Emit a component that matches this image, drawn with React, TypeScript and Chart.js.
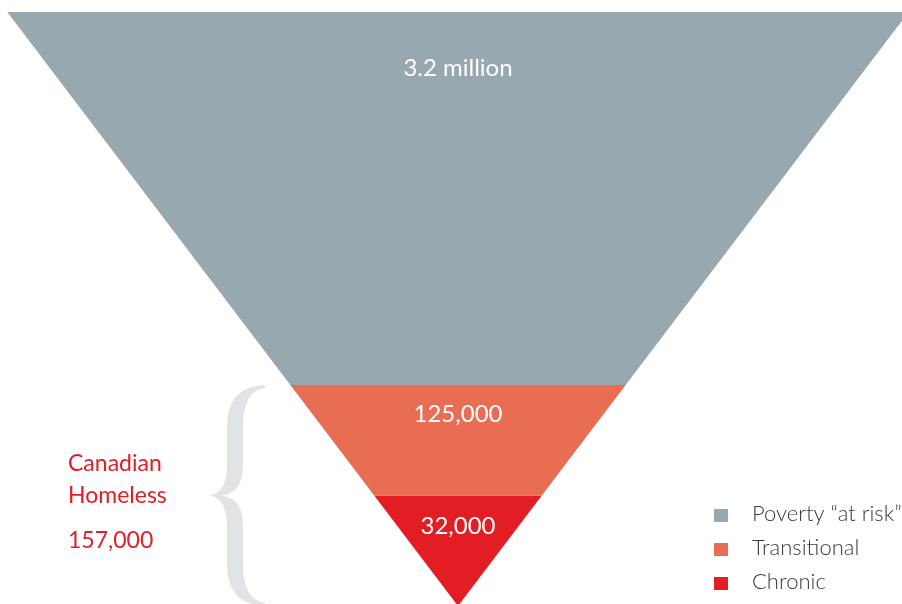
import React, { useEffect, useRef } from "react";
import { Chart, registerables } from "chart.js";

Chart.register(...registerables);

// ---- data ----
const categories = ["Poverty \u201cat risk\u201d", "Transitional", "Chronic"];
const valueLabels = ["3.2 million", "125,000", "32,000"];
const values = [3200000, 125000, 32000];
// share of the funnel height taken by each band (top to bottom)
const bandShares = [62.8, 18.6, 18.6];
const groupTitle = ["Canadian", "Homeless"];
const groupValue = "157,000";
const colors = ["#97a8ae", "#e96d52", "#e31d24"];

// ---- layout constants ----
const W = 902;
const H = 604;
const TOP_HALF = 450.7; // half width of funnel top in x units
const FONT = "Lato, 'Open Sans', sans-serif";

function levelBounds() {
  const out: [number, number][] = [];
  let top = 100;
  for (const s of bandShares) {
    out.push([top, top - s]);
    top -= s;
  }
  return out;
}

const hw = (l: number) => (l / 100) * TOP_HALF;

const funnelPlugin = {
  id: "funnelDecor",
  afterDatasetsDraw(chart: any) {
    const { ctx, scales } = chart;
    const xs = scales.x;
    const ys = scales.y;
    const cx = xs.getPixelForValue(0);
    const bounds = levelBounds();
    ctx.save();
    ctx.fillStyle = "#ffffff";
    ctx.textAlign = "center";
    ctx.textBaseline = "alphabetic";
    ctx.font = `400 24px ${FONT}`;
    const labelOffsets = [64, 37, 38];
    valueLabels.forEach((t, i) => {
      const yTop = ys.getPixelForValue(bounds[i][0]);
      ctx.fillText(t, cx, yTop + labelOffsets[i]);
    });

    // brace spanning transitional + chronic
    const bTop = ys.getPixelForValue(bounds[1][0]);
    const bBot = ys.getPixelForValue(bounds[2][1]);
    const mid = (bTop + bBot) / 2;
    const tipX = 265;
    const l = 227;
    const r = 243;
    const pt = 210;
    ctx.fillStyle = "#e1e4e7";
    ctx.beginPath();
    ctx.moveTo(tipX, bTop);
    ctx.quadraticCurveTo(l, bTop + 1, l, bTop + 42);
    ctx.lineTo(l, mid - 30);
    ctx.quadraticCurveTo(l, mid - 4, pt, mid);
    ctx.quadraticCurveTo(l, mid + 4, l, mid + 30);
    ctx.lineTo(l, bBot - 42);
    ctx.quadraticCurveTo(l, bBot - 1, tipX, bBot);
    ctx.lineTo(tipX, bBot - 3);
    ctx.quadraticCurveTo(r, bBot - 6, r, bBot - 42);
    ctx.lineTo(r, mid + 30);
    ctx.quadraticCurveTo(r, mid + 3, pt + 12, mid);
    ctx.quadraticCurveTo(r, mid - 3, r, mid - 30);
    ctx.lineTo(r, bTop + 42);
    ctx.quadraticCurveTo(r, bTop + 6, tipX, bTop + 3);
    ctx.closePath();
    ctx.fill();

    // group label
    ctx.fillStyle = "#e31d24";
    ctx.textAlign = "left";
    ctx.font = `400 23px ${FONT}`;
    ctx.fillText(groupTitle[0], 68, 471);
    ctx.fillText(groupTitle[1], 68, 503);
    ctx.fillText(groupValue, 68, 548);

    // legend
    const legY = [521, 555, 589];
    categories.forEach((c, i) => {
      ctx.fillStyle = colors[i];
      ctx.fillRect(714, legY[i] - 12, 14, 13);
      ctx.fillStyle = "#3a3a3a";
      ctx.font = `300 22px ${FONT}`;
      ctx.fillText(c, 752, legY[i]);
    });
    ctx.restore();
  },
};

export default function App() {
  const ref = useRef<HTMLCanvasElement | null>(null);
  useEffect(() => {
    const bounds = levelBounds();
    const datasets = categories.map((c, i) => {
      const [t, b] = bounds[i];
      return {
        label: c,
        data: [
          { x: -hw(t), y: t },
          { x: hw(t), y: t },
          { x: hw(b), y: b },
          { x: -hw(b), y: b },
          { x: -hw(t), y: t },
        ],
        showLine: true,
        fill: "shape",
        backgroundColor: colors[i],
        borderColor: colors[i],
        borderWidth: 0,
        pointRadius: 0,
        tension: 0,
        value: values[i],
      } as any;
    });
    const chart = new Chart(ref.current!, {
      type: "scatter",
      data: { datasets },
      options: {
        animation: false,
        responsive: false,
        maintainAspectRatio: false,
        events: [],
        layout: { padding: { top: 12, left: 0, right: 0, bottom: 0 } },
        plugins: { legend: { display: false }, tooltip: { enabled: false } },
        scales: {
          x: { type: "linear", min: -458, max: 444, display: false },
          y: { type: "linear", min: 0.34, max: 100, display: false },
        },
      },
      plugins: [funnelPlugin],
    });
    return () => chart.destroy();
  }, []);
  return (
    <div style={{ position: "absolute", left: 0, top: 0, width: W, height: H, background: "#fff" }}>
      <canvas ref={ref} width={W} height={H} style={{ width: W, height: H, display: "block" }} />
    </div>
  );
}
